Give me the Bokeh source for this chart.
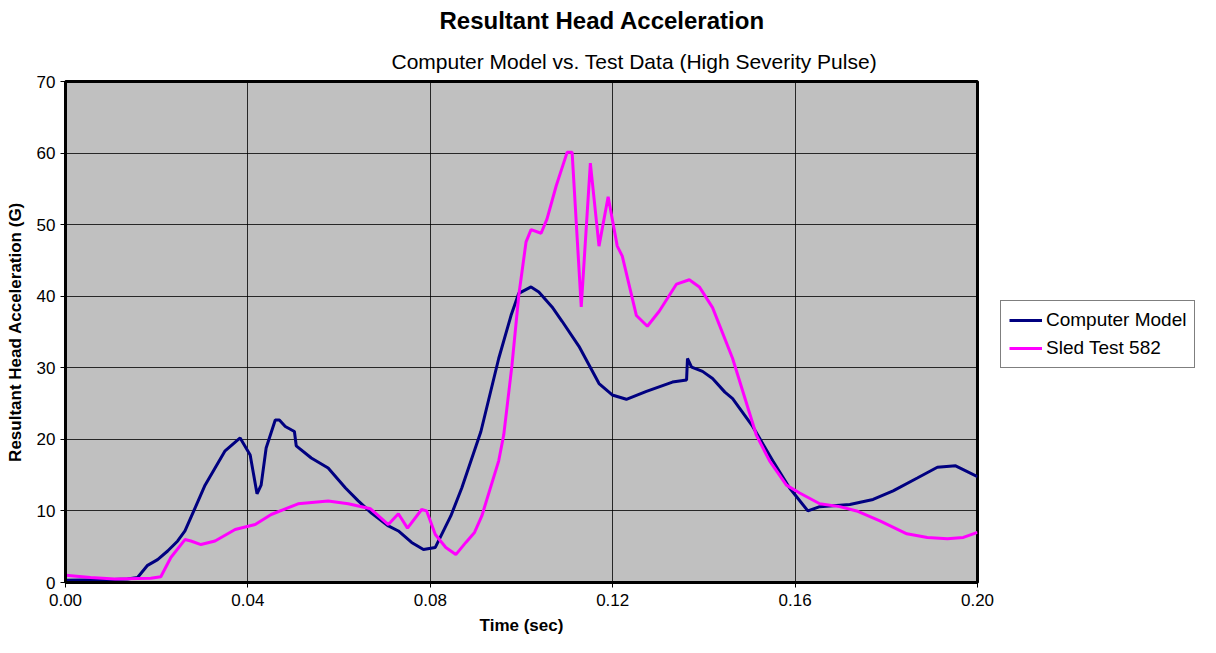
from bokeh.plotting import figure
from bokeh.layouts import row
from bokeh.models import Range1d, Title, Legend, LegendItem, FixedTicker, NumeralTickFormatter
from bokeh.embed import file_html
from bokeh.resources import INLINE

# Computer Model (navy)
model_t = [0.0, 0.0092, 0.0136, 0.0158, 0.018, 0.0202, 0.0224, 0.0246, 0.0262, 0.0284, 0.0306,
           0.0328, 0.035, 0.0383, 0.0405, 0.042, 0.0429, 0.044, 0.046, 0.0469, 0.0482, 0.0502,
           0.0506, 0.0539, 0.0576, 0.0614, 0.0642, 0.0671, 0.0708, 0.073, 0.0759, 0.0785, 0.0811,
           0.0845, 0.0869, 0.0911, 0.095, 0.0977, 0.0994, 0.1021, 0.1038, 0.1067, 0.1089, 0.1126,
           0.117, 0.1199, 0.123, 0.1274, 0.1331, 0.1362, 0.1364, 0.1373, 0.1397, 0.1419, 0.1446,
           0.1463, 0.1507, 0.1551, 0.1588, 0.1628, 0.1654, 0.172, 0.1771, 0.1815, 0.1868, 0.1912,
           0.1952, 0.2]
model_g = [0.3, 0.4, 0.5, 0.7, 2.4, 3.2, 4.4, 5.8, 7.2, 10.4, 13.6,
           16.0, 18.4, 20.2, 17.8, 12.4, 13.6, 18.8, 22.7, 22.7, 21.8, 21.1,
           19.1, 17.4, 16.0, 13.2, 11.4, 9.7, 7.9, 7.2, 5.6, 4.6, 4.9,
           9.3, 13.2, 21.1, 31.3, 37.3, 40.4, 41.3, 40.6, 38.5, 36.5, 33.0,
           27.8, 26.2, 25.6, 26.7, 28.0, 28.3, 31.3, 30.1, 29.5, 28.5, 26.6,
           25.7, 21.8, 17.0, 13.2, 10.0, 10.6, 10.9, 11.6, 12.8, 14.6, 16.1,
           16.3, 14.8]

# Sled Test 582 (magenta)
sled_t = [0.0, 0.0055, 0.0108, 0.0187, 0.0209, 0.0231, 0.0262, 0.0275, 0.0297, 0.0328, 0.0372,
          0.0416, 0.0451, 0.051, 0.0576, 0.062, 0.0669, 0.0708, 0.073, 0.075, 0.0781, 0.0792,
          0.0811, 0.0834, 0.0856, 0.0878, 0.0897, 0.0913, 0.095, 0.0961, 0.0979, 0.0994, 0.101,
          0.1021, 0.1043, 0.1056, 0.1076, 0.11, 0.1111, 0.1131, 0.1151, 0.117, 0.119, 0.121,
          0.1221, 0.1252, 0.1276, 0.1302, 0.134, 0.1368, 0.139, 0.1419, 0.1463, 0.1515, 0.1544,
          0.1581, 0.161, 0.1654, 0.1698, 0.1735, 0.1786, 0.1845, 0.189, 0.1934, 0.1969, 0.2]
sled_g = [1.0, 0.7, 0.5, 0.6, 0.8, 3.5, 6.0, 5.8, 5.3, 5.8, 7.4,
          8.1, 9.5, 11.0, 11.4, 11.0, 10.3, 8.1, 9.6, 7.6, 10.2, 10.0,
          6.7, 4.9, 3.9, 5.6, 7.0, 9.3, 17.0, 20.6, 30.3, 40.1, 47.6,
          49.3, 48.8, 50.8, 55.4, 60.1, 60.1, 38.5, 58.6, 47.0, 53.9, 47.0,
          45.6, 37.3, 35.8, 37.9, 41.7, 42.3, 41.3, 38.4, 31.3, 20.6, 17.0,
          13.6, 12.5, 11.0, 10.6, 10.0, 8.6, 6.8, 6.3, 6.1, 6.3, 7.0]

series_names = ["Computer Model", "Sled Test 582"]
series_colors = ["#000080", "#FF00FF"]

x_ticks = [0.0, 0.04, 0.08, 0.12, 0.16, 0.20]
y_ticks = [0, 10, 20, 30, 40, 50, 60, 70]

FONT = "Liberation Sans"

p = figure(width=995, height=637, output_backend="svg", toolbar_location=None,
           x_range=Range1d(0, 0.2), y_range=Range1d(0, 70),
           min_border_left=65, min_border_right=18, min_border_top=0, min_border_bottom=10)
p.border_fill_color = "white"
p.background_fill_color = "#C0C0C0"
p.outline_line_color = "black"
p.outline_line_width = 3

p.title.text = "Resultant Head Acceleration"
p.title.text_font = FONT
p.title.text_font_size = "24px"
p.title.text_font_style = "bold"
p.title.text_color = "black"
p.title.align = "left"
p.title.offset = 374
p.title.standoff = 9

sub = Title(text="Computer Model vs. Test Data (High Severity Pulse)", text_font=FONT,
            text_font_size="21px", text_font_style="normal", text_color="black",
            align="left", offset=326, standoff=18)
p.add_layout(sub, "above")

for ax in (p.xaxis[0], p.yaxis[0]):
    ax.axis_line_width = 3
    ax.axis_line_color = "black"
    ax.major_tick_line_color = "black"
    ax.major_tick_in = 0
    ax.major_tick_out = 5
    ax.minor_tick_line_color = None
    ax.major_label_text_font = FONT
    ax.major_label_text_font_size = "17px"
    ax.major_label_text_color = "black"
    ax.axis_label_text_font = FONT
    ax.axis_label_text_font_size = "17px"
    ax.axis_label_text_font_style = "bold"
    ax.axis_label_text_color = "black"

p.xaxis.ticker = FixedTicker(ticks=x_ticks)
p.yaxis.ticker = FixedTicker(ticks=y_ticks)
p.xaxis.formatter = NumeralTickFormatter(format="0.00")
p.xaxis.axis_label = "Time (sec)"
p.yaxis.axis_label = "Resultant Head Acceleration (G)"
p.xaxis.major_label_standoff = 6
p.xaxis.axis_label_standoff = 7
p.yaxis.major_label_standoff = 5
p.yaxis.axis_label_standoff = 9

p.xgrid.ticker = FixedTicker(ticks=x_ticks)
p.ygrid.ticker = FixedTicker(ticks=y_ticks)
p.grid.grid_line_color = "black"
p.grid.grid_line_width = 1
p.grid.grid_line_alpha = 0.8

r1 = p.line(model_t, model_g, line_color=series_colors[0], line_width=3)
r2 = p.line(sled_t, sled_g, line_color=series_colors[1], line_width=3)

# legend panel (separate canvas to the right of the chart); its own copies of the
# series lie outside its (hidden) ranges, so only the legend is visible there
p2 = figure(width=205, height=637, output_backend="svg", toolbar_location=None,
            x_range=Range1d(5, 6), y_range=Range1d(500, 600),
            min_border_left=0, min_border_right=0, min_border_top=0, min_border_bottom=0)
p2.axis.visible = False
p2.grid.visible = False
p2.outline_line_color = None
p2.background_fill_color = "white"
p2.border_fill_color = "white"
l1 = p2.line(model_t, model_g, line_color=series_colors[0], line_width=3)
l2 = p2.line(sled_t, sled_g, line_color=series_colors[1], line_width=3)

legend = Legend(items=[LegendItem(label=series_names[0], renderers=[l1]),
                       LegendItem(label=series_names[1], renderers=[l2])],
                location=(5, 214), margin=0, padding=8, spacing=6,
                glyph_width=33, glyph_height=20, label_standoff=4,
                label_text_font=FONT, label_text_font_size="19px", label_text_color="black",
                border_line_color="black", border_line_width=1,
                background_fill_color="white", background_fill_alpha=1.0)
p2.add_layout(legend, "center")

layout = row(p, p2, spacing=0)
open("out.html", "w").write(file_html(layout, INLINE))
